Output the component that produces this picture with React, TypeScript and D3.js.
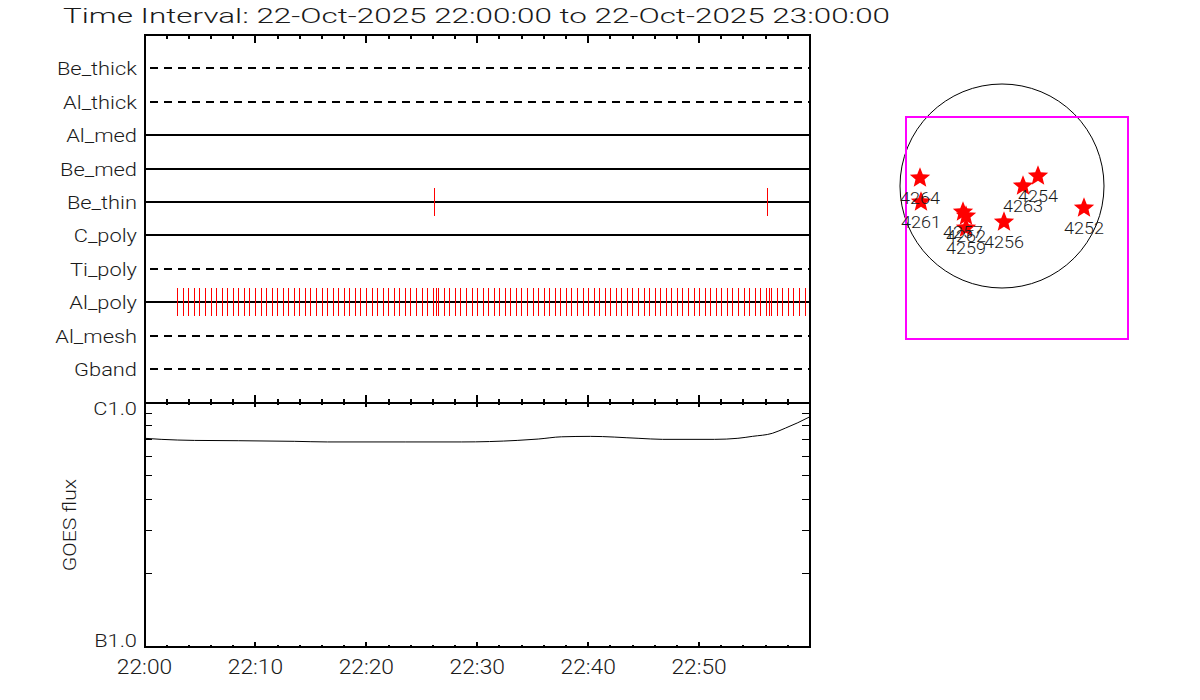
import React from "react";
import * as d3 from "d3";

const title = "Time Interval: 22-Oct-2025 22:00:00 to 22-Oct-2025 23:00:00";
const channels = ["Be_thick", "Al_thick", "Al_med", "Be_med", "Be_thin", "C_poly", "Ti_poly", "Al_poly", "Al_mesh", "Gband"];
const dashedChannels = ["Be_thick", "Al_thick", "Ti_poly", "Al_mesh", "Gband"];
const beThinTimes = [1569, 3371];
const alPolyTimes = [
  178.5, 211, 238, 270.5, 297.6, 330, 362.5, 389.5, 422, 449, 481.5, 508.6, 541, 568, 600.6, 633, 660, 692.5, 719.6, 752,
  779, 811.6, 838.6, 871, 898, 930.6, 963, 990, 1022.6, 1049.6, 1082, 1109, 1141.6, 1168.6, 1201, 1233.6, 1260.6, 1293, 1320,
  1352.6, 1379.6, 1412, 1439, 1471.6, 1504, 1531, 1563.6, 1580, 1590.6, 1623, 1650, 1682.6, 1709.6, 1742, 1774.6, 1801.6,
  1834, 1861, 1893.6, 1920.7, 1953, 1980, 2012.6, 2039.7, 2072, 2104.6, 2131.7, 2164, 2191, 2223.7, 2250.7, 2283, 2310,
  2342.7, 2375, 2402, 2434.7, 2461.7, 2494, 2521, 2553.7, 2580.7, 2613, 2640, 2672.7, 2705, 2732, 2764.7, 2791.7, 2824, 2851,
  2883.7, 2910.7, 2943, 2975.7, 3002.8, 3035, 3062, 3094.7, 3121.7, 3154, 3181, 3213.8, 3246, 3273, 3305.7, 3332.8, 3365,
  3381.5, 3392, 3424.8, 3451.8, 3484, 3511, 3543.7, 3576,
];
const goesMinutes = [0, 1.5, 4.5, 8.5, 13.5, 16.5, 23.5, 28.6, 33.6, 35.5, 37.6, 40.2, 44.5, 46.7, 51.4, 53.5, 54.8, 56.6, 57.8, 58.9, 60];
const goesFlux = [7.11e-7, 7.04e-7, 6.97e-7, 6.95e-7, 6.91e-7, 6.87e-7, 6.87e-7, 6.87e-7, 6.97e-7, 7.06e-7, 7.21e-7, 7.24e-7, 7.11e-7, 7.04e-7, 7.04e-7, 7.11e-7, 7.24e-7, 7.45e-7, 7.83e-7, 8.23e-7, 8.71e-7];
const logTicks = [1e-7, 2e-7, 3e-7, 4e-7, 5e-7, 6e-7, 7e-7, 8e-7, 9e-7, 1e-6];
const timeTicks = [0, 10, 20, 30, 40, 50];
const timeLabels = ["22:00", "22:10", "22:20", "22:30", "22:40", "22:50"];
const minorTimes = d3.range(0, 61, 2);
const arNames = ["4264", "4261", "4257", "4262", "4259", "4256", "4263", "4254", "4252"];
const arX = [920, 921, 963, 966, 966, 1004, 1023, 1038, 1084];
const arY = [178, 202, 212, 216, 228, 222, 186, 176, 208];

const FONT = "Roboto, 'DejaVu Sans', sans-serif";
const W = 1200, H = 700;
const INK = "#1a1a1a";

const fatStar = {
  draw(ctx: any, size: number) {
    const R = Math.sqrt(size);
    const r = R * 0.44;
    for (let i = 0; i < 10; i++) {
      const a = (i * Math.PI) / 5 - Math.PI / 2;
      const q = i % 2 ? r : R;
      if (i === 0) ctx.moveTo(q * Math.cos(a), q * Math.sin(a));
      else ctx.lineTo(q * Math.cos(a), q * Math.sin(a));
    }
    ctx.closePath();
  },
};

function Lab({ x, y, size = 19, sx = 1.15, anchor = "end", children }: any) {
  return (
    <text transform={`translate(${x},${y}) scale(${sx},1)`} fontSize={size} fontWeight={300} textAnchor={anchor} fill={INK}>
      {children}
    </text>
  );
}

export default function App() {
  const xSec = d3.scaleLinear().domain([0, 3600]).range([144.5, 810]);
  const xMin = d3.scaleLinear().domain([0, 60]).range([144.5, 810]);
  const yChan = d3.scaleLinear().domain([0, channels.length + 1]).range([35, 402.5]);
  const yFlux = d3.scaleLog().domain([1e-7, 1e-6]).range([647, 402]);
  const line = d3.line<number>().x((_, i) => xMin(goesMinutes[i])).y((d) => yFlux(d)).curve(d3.curveMonotoneX);
  const star = d3.symbol().type(fatStar).size(115)();
  const rowY = (i: number) => Math.round(yChan(i + 1));

  return (
    <svg width={W} height={H} style={{ position: "absolute", left: 0, top: 0, background: "#fff" }} fontFamily={FONT}>
      <text x={63} y={23} fontSize={20} fontWeight={300} textLength={827} lengthAdjust="spacingAndGlyphs" fill={INK}>{title}</text>

      <g stroke="#000" shapeRendering="crispEdges">
        {channels.map((c, i) => {
          const dashed = dashedChannels.includes(c);
          return (
            <line key={c} x1={xMin(0)} x2={xMin(60)} y1={rowY(i)} y2={rowY(i)} strokeWidth={2}
              strokeDasharray={dashed ? "8 6" : undefined} strokeDashoffset={dashed ? 8.5 : undefined} />
          );
        })}
      </g>
      {channels.map((c, i) => <Lab key={c} x={137} y={rowY(i) + 7}>{c}</Lab>)}

      <g stroke="#f00" strokeWidth={1} shapeRendering="crispEdges">
        {beThinTimes.map((t) => <line key={t} x1={xSec(t)} x2={xSec(t)} y1={rowY(4) - 14} y2={rowY(4) + 14} />)}
        {alPolyTimes.map((t) => <line key={t} x1={xSec(t)} x2={xSec(t)} y1={rowY(7) - 14} y2={rowY(7) + 14} />)}
      </g>

      <path d={line(goesFlux) ?? ""} fill="none" stroke="#000" strokeWidth={1} />

      <g stroke="#000" shapeRendering="crispEdges">
        <path d="M144.5 35H810V647H144.5Z" fill="none" strokeWidth={2} />
        <line x1={144.5} x2={810} y1={402.5} y2={402.5} strokeWidth={2} />
        {minorTimes.map((m) => {
          const major = m % 10 === 0;
          const px = xMin(m);
          return (
            <g key={m} strokeWidth={2}>
              <line x1={px} x2={px} y1={35} y2={major ? 43 : 39} />
              <line x1={px} x2={px} y1={major ? 395 : 399} y2={major ? 407 : 405} />
              <line x1={px} x2={px} y1={major ? 642 : 645} y2={647} />
            </g>
          );
        })}
        {logTicks.map((v) => (
          <g key={v} strokeWidth={1}>
            <line x1={144.5} x2={152} y1={yFlux(v)} y2={yFlux(v)} />
            <line x1={802} x2={810} y1={yFlux(v)} y2={yFlux(v)} />
          </g>
        ))}
      </g>

      <Lab x={137} y={415}>C1.0</Lab>
      <Lab x={137} y={647}>B1.0</Lab>
      <text transform="translate(76,525) rotate(-90) scale(1.12,1)" textAnchor="middle" fontSize={19} fontWeight={300} fill={INK}>GOES flux</text>
      {timeTicks.map((m, i) => <Lab key={m} x={xMin(m)} y={674} size={20} sx={1.14} anchor="middle">{timeLabels[i]}</Lab>)}

      <circle cx={1002} cy={186} r={102} fill="none" stroke="#000" strokeWidth={1} />
      <rect x={906} y={116.5} width={222} height={222} fill="none" stroke="#f0f" strokeWidth={2} shapeRendering="crispEdges" />
      <g fill="#f00">
        {arNames.map((n, i) => <path key={n} d={star ?? ""} transform={`translate(${arX[i]},${arY[i]})`} />)}
      </g>
      {arNames.map((n, i) => <Lab key={n} x={arX[i]} y={arY[i] + 26} size={17} sx={1.06} anchor="middle">{n}</Lab>)}
    </svg>
  );
}
